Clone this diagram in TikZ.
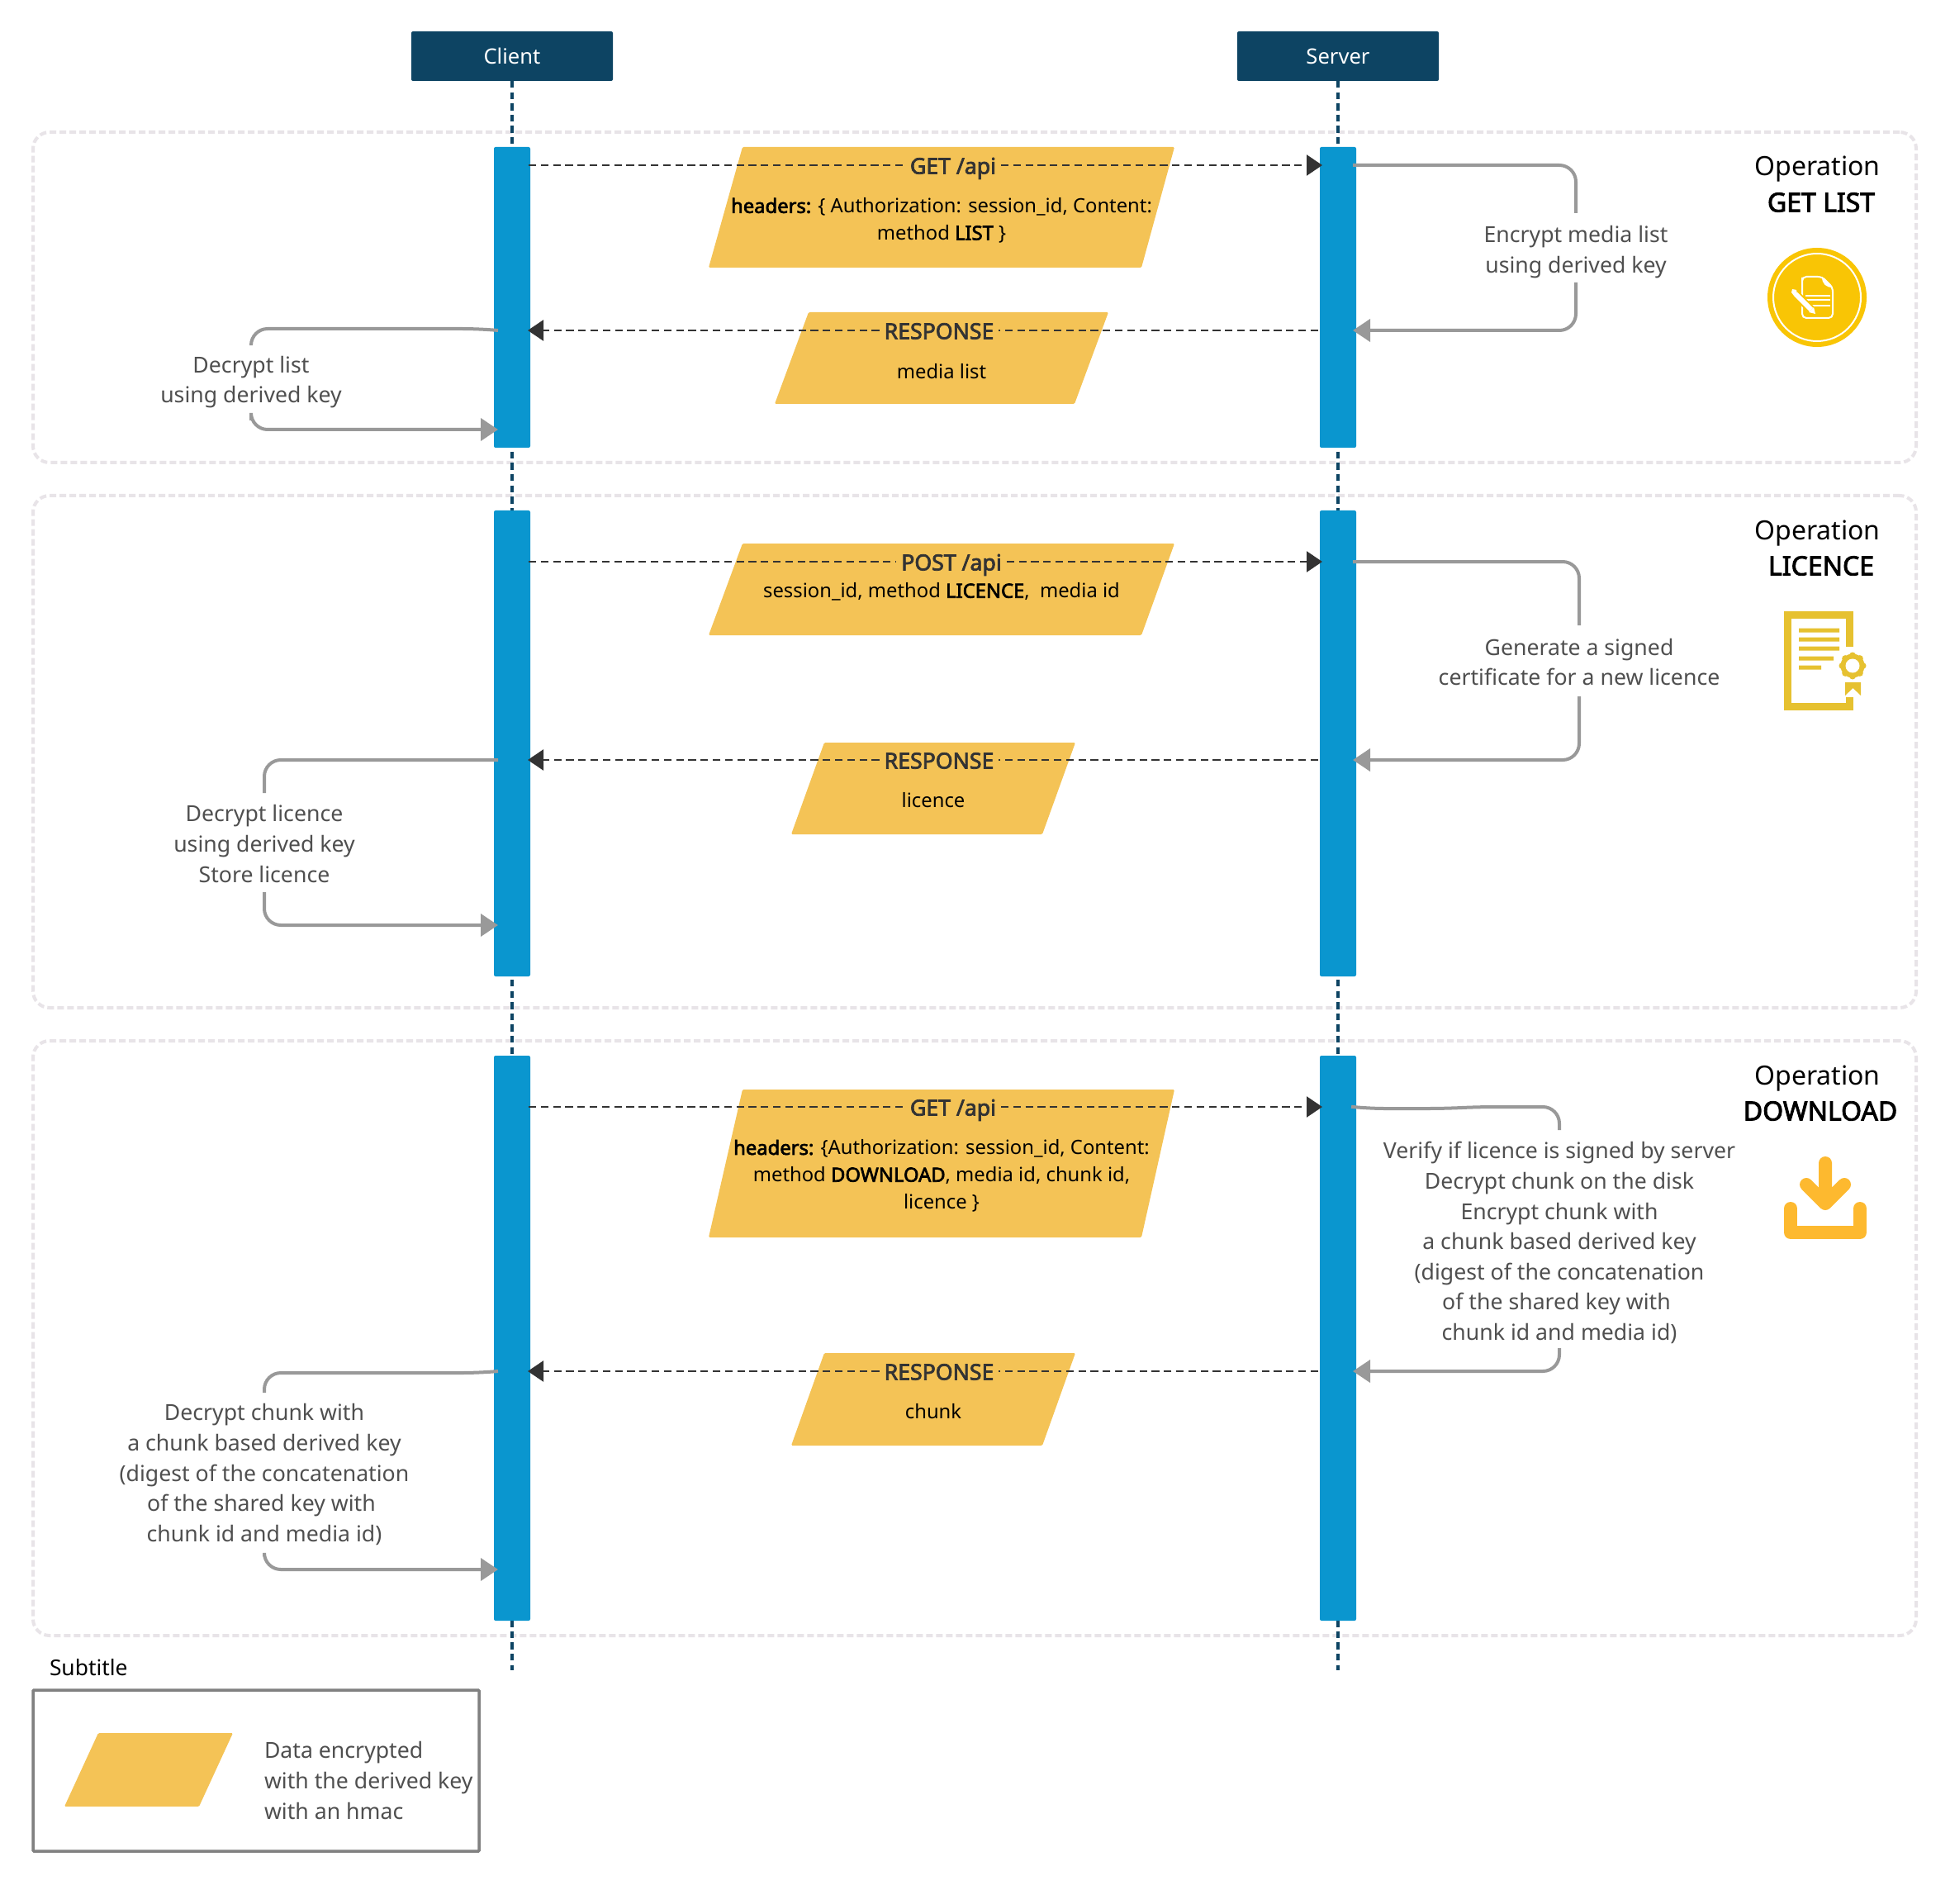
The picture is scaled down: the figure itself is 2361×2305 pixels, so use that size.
\documentclass[tikz,border=0pt]{standalone}
\usepackage{fontspec}
\setmainfont{Noto Sans}[BoldFont={Noto Sans},BoldFeatures={FakeBold=2.8}]
\usetikzlibrary{arrows.meta}
\definecolor{navy}{HTML}{0D4463}
\definecolor{barblue}{HTML}{0A96CF}
\definecolor{para}{HTML}{F4C356}
\definecolor{grpline}{HTML}{E8E4E8}
\definecolor{dark}{HTML}{333333}
\definecolor{loopgray}{HTML}{999999}
\definecolor{labgray}{HTML}{4F4F4F}
\definecolor{legline}{HTML}{808080}
\definecolor{iconyellow}{HTML}{F9C505}
\definecolor{licgold}{HTML}{E6C130}
\definecolor{dlgold}{HTML}{FDB92F}
\tikzset{
  grp/.style={draw=grpline,line width=2pt,dash pattern=on 4pt off 2pt,rounded corners=10pt,anchor=north west,inner sep=0pt,outer sep=0pt,minimum width=1140pt},
  head/.style={fill=navy,text=white,rounded corners=1pt,minimum width=122pt,minimum height=30pt,inner sep=0pt,outer sep=0pt,font=\fontsize{12.8}{15}\selectfont},
  life/.style={draw=navy,line width=2pt,dash pattern=on 4.2pt off 2.6pt},
  bar/.style={fill=barblue,rounded corners=1pt,minimum width=22pt,inner sep=0pt,outer sep=0pt,anchor=north},
  parashape/.style={fill=para,rounded corners=0.7pt},
  msg/.style={draw=dark,line width=1.25pt,dash pattern=on 4.6pt off 2.8pt},
  msgtip/.style={msg,-{Triangle[length=9.5pt,width=12.5pt]}},
  msglab/.style={text=dark,font=\fontsize{13.33}{16}\bfseries\selectfont,inner xsep=3pt,inner ysep=0pt,outer sep=0pt,text height=10.5pt,text depth=0pt},
  body/.style={text=black,align=center,inner sep=0pt,outer sep=0pt,font=\fontsize{11.9}{16.35}\selectfont},
  lp/.style={draw=loopgray,line width=2pt,rounded corners=10pt},
  lptip/.style={lp,-{Triangle[length=10.5pt,width=13.5pt]}},
  lplab/.style={text=labgray,align=center,inner sep=0pt,outer sep=0pt,font=\fontsize{13.33}{18.3}\selectfont},
  optitle/.style={text=black,inner sep=0pt,outer sep=0pt,font=\fontsize{16}{20}\selectfont},
  opbold/.style={text=black,inner sep=0pt,outer sep=0pt,font=\fontsize{16}{20}\bfseries\selectfont},
}
\begin{document}
\begin{tikzpicture}[x=0.5pt,y=-0.5pt]
\useasboundingbox (0,0) rectangle (2361,2305);
\fill[white] (0,0) rectangle (2361,2305);
% groups
\node[grp,minimum height=200pt] (g1) at (40,160) {};
\node[grp,minimum height=310pt] (g2) at (40,600) {};
\node[grp,minimum height=360pt] (g3) at (40,1260) {};
% actors and lifelines
\node[head] (cl) at (620,68) {\raisebox{-0.7pt}{Client}};
\node[head] (sv) at (1620,68) {\raisebox{-0.7pt}{Server}};
\coordinate (clend) at (620,2022);
\coordinate (svend) at (1620,2022);
\draw[life] (cl.south) -- (clend);
\draw[life] (sv.south) -- (svend);
% activation bars
\node[bar,minimum height=182pt] (cb1) at (620,178) {};
\node[bar,minimum height=282pt] (cb2) at (620,618) {};
\node[bar,minimum height=342pt] (cb3) at (620,1278) {};
\node[bar,minimum height=182pt] (sb1) at (1620,178) {};
\node[bar,minimum height=282pt] (sb2) at (1620,618) {};
\node[bar,minimum height=342pt] (sb3) at (1620,1278) {};
% encrypted-data parallelograms
\fill[parashape] (899,178) -- (1422,178) -- (1382,324) -- (858,324) -- cycle;
\fill[parashape] (979,378) -- (1342,378) -- (1301,489) -- (938,489) -- cycle;
\fill[parashape] (899,658) -- (1422,658) -- (1382,769) -- (858,769) -- cycle;
\fill[parashape] (998,899) -- (1302,899) -- (1262,1010) -- (958,1010) -- cycle;
\fill[parashape] (899,1319) -- (1422,1319) -- (1382,1498) -- (858,1498) -- cycle;
\fill[parashape] (998,1638) -- (1302,1638) -- (1262,1750) -- (958,1750) -- cycle;
% anchors on the bars
\coordinate (a1l) at (640,200); \coordinate (a1r) at (1601,200);
\coordinate (r1r) at (1596,400); \coordinate (r1l) at (639,400);
\coordinate (a2l) at (640,680); \coordinate (a2r) at (1601,680);
\coordinate (r2r) at (1596,920); \coordinate (r2l) at (639,920);
\coordinate (a3l) at (640,1340); \coordinate (a3r) at (1601,1340);
\coordinate (r3r) at (1596,1660); \coordinate (r3l) at (639,1660);
% message labels
\node[msglab] (m1) at (1154,200) {GET /api};
\node[msglab] (m2) at (1137,400) {RESPONSE};
\node[msglab] (m3) at (1152,680) {POST /api};
\node[msglab] (m4) at (1137,920) {RESPONSE};
\node[msglab] (m5) at (1154,1340) {GET /api};
\node[msglab] (m6) at (1137,1660) {RESPONSE};
% message connectors
\draw[msg] (a1l) -- (m1.west); \draw[msgtip] (m1.east) -- (a1r);
\draw[msg] (r1r) -- (m2.east); \draw[msgtip] (m2.west) -- (r1l);
\draw[msg] (a2l) -- (m3.west); \draw[msgtip] (m3.east) -- (a2r);
\draw[msg] (r2r) -- (m4.east); \draw[msgtip] (m4.west) -- (r2l);
\draw[msg] (a3l) -- (m5.west); \draw[msgtip] (m5.east) -- (a3r);
\draw[msg] (r3r) -- (m6.east); \draw[msgtip] (m6.west) -- (r3l);
% parallelogram texts
\node[body] (t1) at (1140,267) {\textbf{headers:} \{ Authorization: session\_id, Content:\\method \textbf{LIST} \}};
\node[body] (t2) at (1140,450) {media list};
\node[body] (t3) at (1140,716.5) {session\_id, method \textbf{LICENCE},\ \ media id};
\node[body] (t4) at (1130,969) {licence};
\node[body] (t5) at (1140,1423.5) {\textbf{headers:} \{Authorization: session\_id, Content:\\method \textbf{DOWNLOAD}, media id, chunk id,\\licence \}};
\node[body] (t6) at (1130,1709) {chunk};
% server self-loops
\node[lplab,minimum height=42pt] (s1) at (1908,305) {Encrypt media list\\using derived key};
\coordinate (s1a) at (1638,200); \coordinate (s1b) at (1638,400);
\draw[lp,shorten >=2.5pt] (s1a) -| (s1.north);
\draw[lptip,shorten <=-2.5pt] (s1.south) |- (s1b);
\node[lplab,minimum height=43pt] (s2) at (1912,801.5) {Generate a signed\\certificate for a new licence};
\coordinate (s2a) at (1638,680); \coordinate (s2b) at (1638,920);
\draw[lp,shorten >=0.75pt] (s2a) -| (s2.north);
\draw[lptip,shorten <=-0.75pt] (s2.south) |- (s2b);
\node[lplab,minimum height=132pt] (s3) at (1888,1504.5) {Verify if licence is signed by server\\Decrypt chunk on the disk\\Encrypt chunk with\\a chunk based derived key\\(digest of the concatenation\\of the shared key with\rule{3.5pt}{0pt}\\chunk id and media id)};
\coordinate (s3a) at (1638,1340); \coordinate (s3m) at (1656,1342); \coordinate (s3n) at (1750,1342); \coordinate (s3o) at (1790,1340); \coordinate (s3b) at (1638,1660);
\draw[lp,shorten >=2.25pt] (s3a) -- (s3m) -- (s3n) -- (s3o) -| (s3.north);
\draw[lptip,shorten <=-2.25pt] (s3.south) |- (s3b);
% client self-loops
\node[lplab,minimum height=42pt] (c1) at (304,462.5) {Decrypt list\\using derived key};
\coordinate (c1a) at (603,400); \coordinate (c1m) at (580,398); \coordinate (c1b) at (603,520);
\draw[lp,shorten >=2.25pt] (c1a) -- (c1m) -| (c1.north);
\draw[lptip,shorten <=-2.25pt] (c1.south) |- (c1b);
\node[lplab,minimum height=60pt] (c2) at (320,1021.5) {Decrypt licence\\using derived key\\Store licence};
\coordinate (c2a) at (603,920); \coordinate (c2b) at (603,1120);
\draw[lp,shorten >=0.75pt] (c2a) -| (c2.north);
\draw[lptip,shorten <=-0.75pt] (c2.south) |- (c2b);
\node[lplab,minimum height=96pt] (c3) at (320,1785) {Decrypt chunk with\\a chunk based derived key\\(digest of the concatenation\\of the shared key with\rule{3.5pt}{0pt}\\chunk id and media id)};
\coordinate (c3a) at (603,1660); \coordinate (c3m) at (580,1662); \coordinate (c3b) at (603,1900);
\draw[lp,shorten >=1.5pt] (c3a) -- (c3m) -| (c3.north);
\draw[lptip,shorten <=-1.5pt] (c3.south) |- (c3b);
% operation titles
\node[optitle] (o1) at (2200.5,205) {Operation};
\node[opbold] (p1) at (2205,245) {GET LIST};
\node[optitle] (o2) at (2200.5,646) {Operation};
\node[opbold] (p2) at (2205,685) {LICENCE};
\node[optitle] (o3) at (2200.5,1306) {Operation};
\node[opbold] (p3) at (2204,1345) {DOWNLOAD};
% icon: list
\fill[iconyellow] (2200,360) circle (60);
\draw[white,line width=1pt] (2200,360) circle (53);
\draw[white,line width=1pt,rounded corners=2.5pt] (2182,341) -- (2182,385) -- (2219,385) -- (2219,348) -- (2206,335) -- (2182,335) -- cycle;
\fill[white] (2206,335) -- (2219,348) .. controls (2211,348) and (2206,344) .. (2206,335) -- cycle;
\draw[white,line width=0.7pt] (2186,358) -- (2216,358) (2186,363) -- (2216,363) (2186,370) -- (2216,370);
\draw[iconyellow,line width=5pt] (2174,356) -- (2193,375);
\draw[white,line width=3pt] (2174,356) -- (2193,375);
\fill[white] (2170,350) -- (2175,351) -- (2176,356) -- (2172,358) -- (2169,354) -- cycle;
\fill[white] (2190,378) -- (2196,372) -- (2198,380) -- cycle;
% icon: licence
\draw[licgold,line width=4.5pt,miter limit=10] (2239.3,783) -- (2239.3,744.5) -- (2164.5,744.5) -- (2164.5,855.5) -- (2239.3,855.5) -- (2239.3,844);
\fill[licgold] (2178,760.5) rectangle (2227,765.5) (2178,771.5) rectangle (2227,776.5) (2178,782.5) rectangle (2227,787.5) (2178,794.5) rectangle (2220,799.5) (2178,805.5) rectangle (2205,810.5);
\foreach \a in {0,45,...,315} \fill[licgold] (2243,806) ++(\a:12.5) circle (4);
\fill[licgold] (2243,806) circle (14.5);
\fill[white] (2243,806) circle (8.5);
\fill[licgold] (2234,826) -- (2253,826) -- (2253,842) -- (2243.5,833) -- (2234,842) -- cycle;
% icon: download
\draw[dlgold,line width=8pt,line cap=round,line join=round] (2210,1408) -- (2210,1450) (2187,1434) -- (2210,1457) -- (2233,1434);
\draw[dlgold,line width=8pt,line cap=round,line join=round] (2168,1463) -- (2168,1492) -- (2252,1492) -- (2252,1463);
% legend
\node[text=black,anchor=west,inner sep=0pt,outer sep=0pt,font=\fontsize{13.2}{16}\selectfont] (sub) at (60,2019) {Subtitle};
\node[draw=legline,line width=1.75pt,anchor=north west,minimum width=270pt,minimum height=97.5pt,inner sep=0pt,outer sep=0pt,rounded corners=0.5pt] (leg) at (40,2046) {};
\fill[parashape] (119,2098) -- (282,2098) -- (241,2187) -- (78,2187) -- cycle;
\node[lplab,align=left,anchor=west] (legt) at (320,2155.5) {Data encrypted\\with the derived key\\with an hmac};
\end{tikzpicture}
\end{document}
